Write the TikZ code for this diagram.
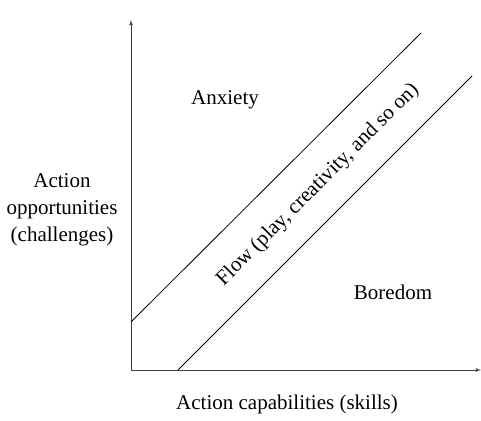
\documentclass[tikz,border=0pt]{standalone}
\usepackage{fontspec}
\setmainfont{Liberation Serif}
\usetikzlibrary{arrows,positioning,calc}

\begin{document}
\begin{tikzpicture}[x=1pt, y=1pt]
\tikzset{
    %czubek strzalki
    >=latex',
    %osie
    os/.style={
           ->, line width=0.9pt, draw=black!75},
    %granice kanalu
    granica/.style={
           line width=0.8pt, draw=black},
    %napisy
    napis/.style={
           font=\fontsize{21}{27}\selectfont,
           inner sep=1pt,
           text centered}
}
\useasboundingbox (0,0) rectangle (481,420);

%punkty
\coordinate(o)      at (131,50);
\coordinate(ytop)   at (131,400);
\coordinate(xend)   at (481,50);
\coordinate(g1)     at (131,98);
\coordinate(g2)     at (421,387);
\coordinate(d1)     at (178,50);
\coordinate(d2)     at (472,344);

%NODy
\node(anx)      [napis] at (225,320)                 {Anxiety};
\node(bor)      [napis] at (393,128)                 {Boredom};
\node(flow)     [napis,rotate=45] at (318,235)       {Flow (play, creativity, and so on)};
\node(opp)      [napis,align=center] at (62,210)     {Action\\opportunities\\(challenges)};
\node(cap)      [napis] at (287,16)                  {Action capabilities (skills)};

%osie i kanal
\draw[os] (o) -- (ytop);
\draw[os] (o) -- (xend);
\draw[granica] (g1) -- (g2);
\draw[granica] (d1) -- (d2);
\end{tikzpicture}
\end{document}
